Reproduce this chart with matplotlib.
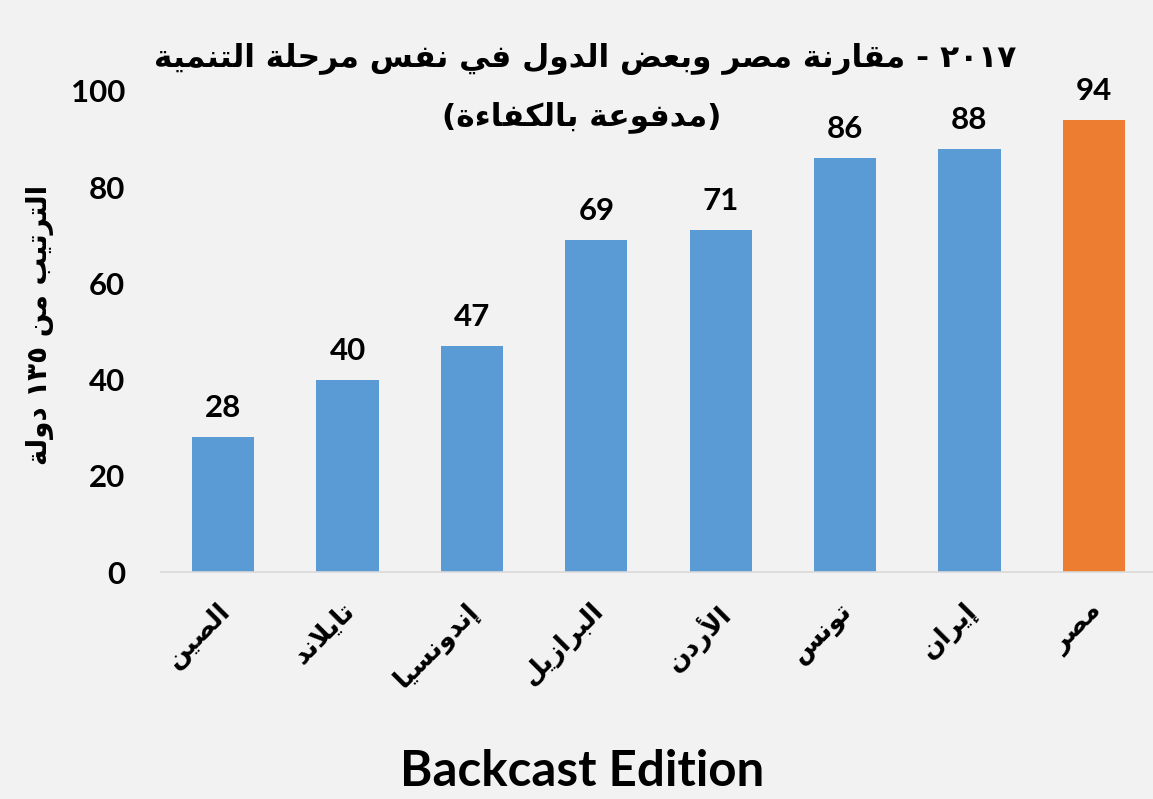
import re
import matplotlib
matplotlib.use("Agg")
import matplotlib.pyplot as plt
from matplotlib.transforms import ScaledTranslation

# chart data
countries = ["الصين", "تايلاند", "إندونسيا", "البرازيل", "الأردن", "تونس", "إيران", "مصر"]
ranks = [28, 40, 47, 69, 71, 86, 88, 94]
bar_colors = ["#5B9BD5"] * 7 + ["#ED7D31"]
y_ticks = [0, 20, 40, 60, 80, 100]
title_line1 = "٢٠١٧ - مقارنة مصر وبعض الدول في نفس مرحلة التنمية"
title_line2 = "(مدفوعة بالكفاءة)"
y_label = "الترتيب من ١٣٥ دولة"
x_label = "Backcast Edition"


# Arabic presentation forms (matplotlib does no shaping / bidi by itself)
# letters that join only to the previous letter: isolated, final
TWO = {0x0622: 0xFE81, 0x0623: 0xFE83, 0x0624: 0xFE85, 0x0625: 0xFE87,
       0x0627: 0xFE8D, 0x0629: 0xFE93, 0x062F: 0xFEA9, 0x0630: 0xFEAB,
       0x0631: 0xFEAD, 0x0632: 0xFEAF, 0x0648: 0xFEED, 0x0649: 0xFEEF}
# letters that join both ways: isolated, final, initial, medial
FOUR = {0x0626: 0xFE89, 0x0628: 0xFE8F, 0x062A: 0xFE95, 0x062B: 0xFE99,
        0x062C: 0xFE9D, 0x062D: 0xFEA1, 0x062E: 0xFEA5, 0x0633: 0xFEB1,
        0x0634: 0xFEB5, 0x0635: 0xFEB9, 0x0636: 0xFEBD, 0x0637: 0xFEC1,
        0x0638: 0xFEC5, 0x0639: 0xFEC9, 0x063A: 0xFECD, 0x0641: 0xFED1,
        0x0642: 0xFED5, 0x0643: 0xFED9, 0x0644: 0xFEDD, 0x0645: 0xFEE1,
        0x0646: 0xFEE5, 0x0647: 0xFEE9, 0x064A: 0xFEF1}
LAM_ALEF = {"\u0622": 0xFEF5, "\u0623": 0xFEF7, "\u0625": 0xFEF9, "\u0627": 0xFEFB}


def ar(s):
    items = []
    i = 0
    while i < len(s):
        if s[i] == "\u0644" and i + 1 < len(s) and s[i + 1] in LAM_ALEF:
            items.append(("", LAM_ALEF[s[i + 1]]))
            i += 2
        else:
            items.append((s[i], None))
            i += 1

    def dual(it):
        return it[1] is None and ord(it[0]) in FOUR

    def joins(it):
        return it[1] is not None or ord(it[0]) in FOUR or ord(it[0]) in TWO

    out = []
    for k, it in enumerate(items):
        c, lig = it
        prev_ok = k > 0 and dual(items[k - 1]) and joins(it)
        next_ok = k + 1 < len(items) and dual(it) and joins(items[k + 1])
        if lig is not None:
            out.append(chr(lig + (1 if prev_ok else 0)))
        elif ord(c) in FOUR:
            off = 3 if (prev_ok and next_ok) else 1 if prev_ok else 2 if next_ok else 0
            out.append(chr(FOUR[ord(c)] + off))
        elif ord(c) in TWO:
            out.append(chr(TWO[ord(c)] + (1 if prev_ok else 0)))
        elif c == "\u0621":
            out.append("\uFE80")
        else:
            out.append(c)
    vis = "".join(out)[::-1]
    # numbers keep left to right order, brackets get mirrored
    vis = re.sub(r"[0-9\u0660-\u0669]+", lambda m: m.group(0)[::-1], vis)
    return vis.translate(str.maketrans("()", ")("))


AR_FONT = dict(family="DejaVu Sans", weight="bold")
NUM_FONT = dict(family=["Lato", "DejaVu Sans"], weight="bold")

fig = plt.figure(figsize=(11.53, 7.99), dpi=100)
fig.patch.set_facecolor("#F2F2F2")
ax = fig.add_axes([161 / 1153, 227 / 799, 995 / 1153, 481 / 799])
ax.set_facecolor("#F2F2F2")

x = list(range(len(countries)))
ax.bar(x, ranks, width=0.5, color=bar_colors)
for xi, v in zip(x, ranks):
    ax.annotate(str(v), (xi, v), xytext=(0, 14.4), textcoords="offset points",
                ha="center", va="baseline", fontsize=22.5, color="black", **NUM_FONT)

ax.set_xlim(-0.5, len(countries) - 0.5)
ax.set_ylim(0, 100)
ax.set_yticks(y_ticks)
ax.set_yticklabels([str(t) for t in y_ticks], fontsize=22.5, **NUM_FONT)
ax.set_xticks(x)
ax.set_xticklabels([ar(c) for c in countries], rotation=45, ha="right", va="top",
                   rotation_mode="anchor", fontsize=19, **AR_FONT)
ax.tick_params(axis="y", length=0, pad=26)
ax.tick_params(axis="x", length=0, pad=19)
shift = ScaledTranslation(-6 / 100, 0, fig.dpi_scale_trans)
for lab in ax.get_xticklabels():
    lab.set_transform(lab.get_transform() + shift)

for side in ["left", "right", "top"]:
    ax.spines[side].set_visible(False)
ax.spines["bottom"].set_color("#D9D9D9")
ax.spines["bottom"].set_linewidth(1.2)

fig.text(585 / 1153, 1 - 67 / 799, ar(title_line1), ha="center", va="baseline",
         fontsize=22.5, **AR_FONT)
fig.text(582 / 1153, 1 - 125 / 799, ar(title_line2), ha="center", va="baseline",
         fontsize=22.5, **AR_FONT)
fig.text(40 / 1153, 1 - 325 / 799, ar(y_label), rotation=90, ha="center", va="center",
         fontsize=20, **AR_FONT)
fig.text(582 / 1153, 13 / 799, x_label, ha="center", va="baseline",
         fontsize=35.5, **NUM_FONT)

plt.savefig("out.png", dpi=100, facecolor=fig.get_facecolor())
